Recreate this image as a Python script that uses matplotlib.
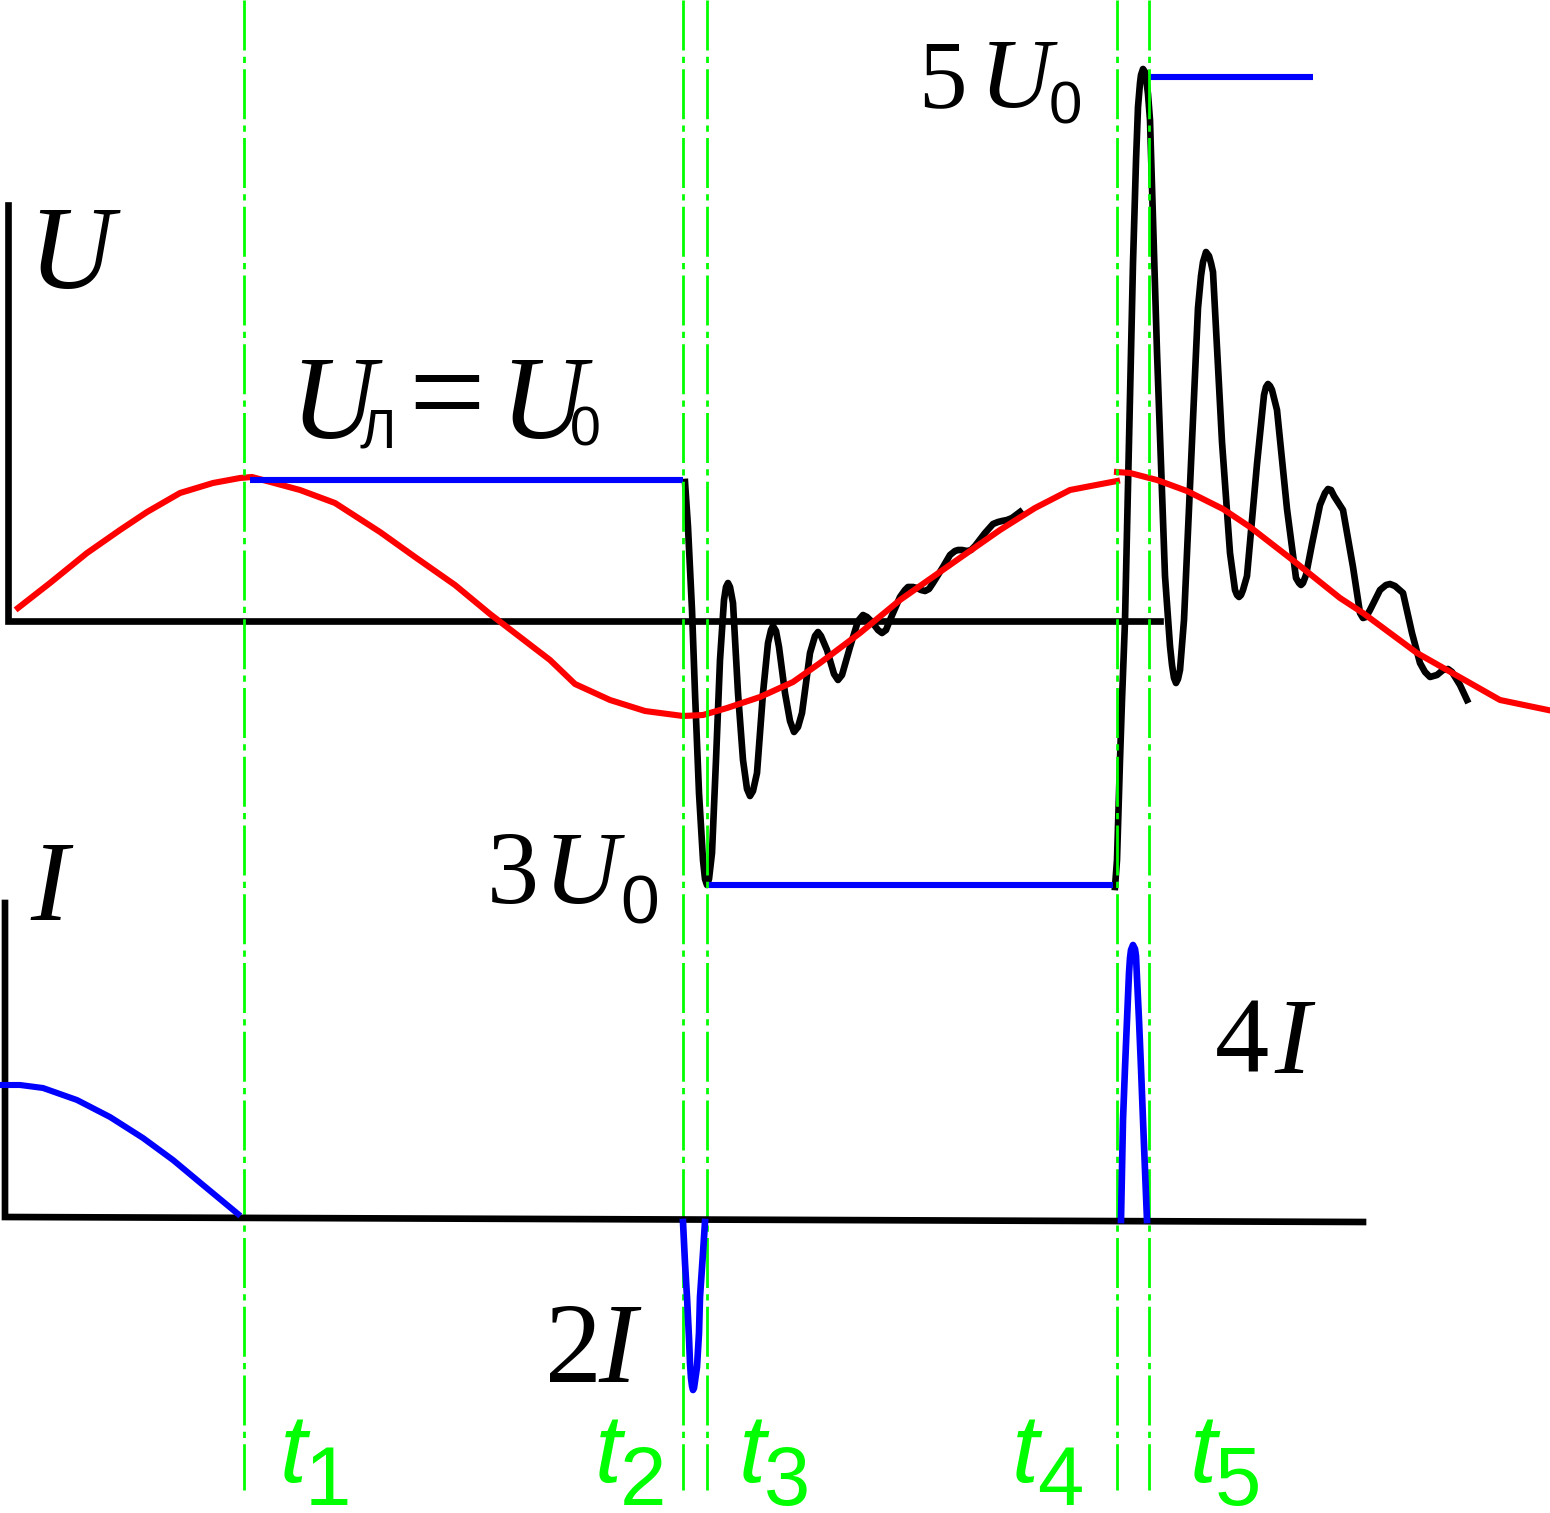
import matplotlib
matplotlib.use("Agg")
import matplotlib.pyplot as plt

# time axis in arbitrary units, voltage / current as heights above their zero lines
t_marks = [244, 683, 707, 1117, 1149]
t_names = ["1", "2", "3", "4", "5"]

red1_t = [18, 50, 87, 120, 147, 180, 213, 240, 252, 300, 335, 380, 415, 455, 490, 520, 550, 575, 610,
          645, 683, 703, 727, 760, 793, 820, 860, 900, 957, 1000, 1035, 1070, 1117]
red1_u = [13, 38, 68, 91, 109, 128, 138, 143, 144, 131, 118, 89, 64, 36, 7, -16, -39, -63, -79,
          -90, -95, -94, -87, -76, -61, -42, -12, 21, 61, 91, 113, 131, 140]
red2_t = [1117, 1130, 1157, 1187, 1223, 1250, 1290, 1340, 1363, 1417, 1447, 1500, 1548]
red2_u = [149, 148, 141, 130, 112, 94, 63, 23, 8, -32, -49, -79, -89]

blackA_t = [685, 688, 692, 695, 699, 703, 705, 707, 709, 712, 716, 720, 724, 726, 728, 730, 733, 738, 743,
            747, 750, 753, 757, 763, 768, 771, 773, 776, 779, 785, 790, 794, 798, 802, 810, 815, 818, 821,
            827, 834, 838, 842, 850, 858, 863, 867, 872, 878, 882, 886, 890, 900, 905, 908, 913, 917, 921,
            925, 929, 933, 943, 950, 955, 958, 962, 967, 971, 975, 985, 993, 998, 1002, 1007, 1012, 1020]
blackA_u = [139, 94, 11, -72, -172, -239, -258, -264, -258, -232, -139, -39, 21, 34, 38, 34, 18, -72, -139,
            -168, -175, -170, -152, -72, -22, -9, -5, -10, -26, -72, -100, -111, -106, -92, -32, -15, -11, -15,
            -29, -53, -59, -54, -26, 0, 6, 4, -1, -9, -12, -9, 1, 24, 31, 34, 34, 33, 31,
            30, 32, 38, 54, 66, 70, 71, 71, 70, 71, 75, 88, 97, 99, 100, 101, 103, 109]

blackB_t = [1115, 1117, 1120, 1122, 1125, 1128, 1133, 1136, 1138, 1140, 1141, 1143, 1145, 1146, 1148, 1150,
            1157, 1165, 1170, 1172, 1174, 1176, 1178, 1180, 1184, 1190, 1198, 1201, 1203, 1206, 1209, 1211,
            1213, 1222, 1230, 1235, 1237, 1239, 1241, 1243, 1247, 1257, 1264, 1266, 1268, 1270, 1272, 1277,
            1287, 1296, 1299, 1301, 1303, 1306, 1312, 1320, 1325, 1328, 1331, 1334, 1343, 1353, 1360, 1363,
            1366, 1370, 1380, 1386, 1390, 1395, 1403, 1412, 1420, 1425, 1430, 1437, 1443, 1448, 1452, 1460, 1467]
blackB_u = [-266, -239, -139, -79, 0, 135, 358, 460, 514, 538, 546, 552, 549, 543, 527, 501,
            269, 45, -25, -44, -57, -62, -58, -49, 1, 135, 313, 345, 359, 369, 365, 358,
            349, 179, 68, 31, 26, 24, 26, 31, 45, 157, 226, 234, 237, 235, 231, 211,
            112, 43, 38, 36, 38, 46, 77, 116, 128, 132, 131, 125, 111, 54, 8, 3,
            4, 11, 31, 36, 37, 35, 28, -12, -42, -51, -56, -54, -49, -48, -51, -64, -79]

# blue levels U0, 3U0, 5U0
lvl1_t, lvl1_u = [250, 683], [141, 141]
lvl3_t, lvl3_u = [707, 1113], [-264, -264]
lvl5_t, lvl5_u = [1149, 1313], [544, 544]

cur0_t = [0, 20, 43, 77, 110, 143, 173, 203, 238]
cur0_i = [133, 133, 130, 118, 101, 80, 58, 33, 4]
cur2_t = [683, 685, 687, 689, 690, 691, 692, 693, 694, 695, 697, 699, 700, 703, 705]
cur2_i = [-4, -45, -79, -120, -145, -160, -168, -172, -170, -163, -149, -115, -79, -35, -4]
cur4_t = [1121, 1123, 1125, 1127, 1129, 1130, 1131, 1133, 1135, 1136, 1137, 1139, 1141, 1143, 1147]
cur4_i = [-2, 98, 150, 198, 245, 260, 268, 273, 269, 262, 240, 198, 150, 98, -2]

plt.rcParams["lines.scale_dashes"] = False
fig = plt.figure(figsize=(15.5, 15.13), dpi=100)
ax = fig.add_axes([0, 0, 1, 1])
ax.set_xlim(0, 1550)
ax.set_ylim(-892, 621)
ax.axis("off")
axi = fig.add_axes([0, 0, 1, 1])
axi.set_xlim(0, 1550)
axi.set_ylim(-295, 1218)
axi.axis("off")
axi.patch.set_alpha(0)

lw = 4.8
ax.plot([8, 8, 1160], [416, 0, 0], color="black", lw=lw, solid_joinstyle="miter")
axi.plot([5, 5, 1363], [315, 1, -4], color="black", lw=lw, solid_joinstyle="miter")

ax.plot(blackA_t, blackA_u, color="black", lw=lw, solid_joinstyle="round", zorder=3)
ax.plot(blackB_t, blackB_u, color="black", lw=lw, solid_joinstyle="round", zorder=3)
ax.plot(red1_t, red1_u, color="red", lw=4.4, zorder=4)
ax.plot(red2_t, red2_u, color="red", lw=4.4, zorder=4)
for tt, uu in [(lvl1_t, lvl1_u), (lvl3_t, lvl3_u), (lvl5_t, lvl5_u)]:
    ax.plot(tt, uu, color="blue", lw=4.4, solid_capstyle="butt", zorder=5)

axi.plot(cur0_t, cur0_i, color="blue", lw=4.4, zorder=3)
axi.plot(cur2_t, cur2_i, color="blue", lw=4.8, solid_joinstyle="round", zorder=3)
axi.plot(cur4_t, cur4_i, color="blue", lw=4.8, solid_joinstyle="round", zorder=3)

green = "#00ff00"
for x in t_marks:
    ax.plot([x, x], [621, -869], color=green, lw=2.0, ls=(0, (36, 4.5, 4.5, 4.5)), zorder=6)

serif = "Liberation Serif"
sans = "Liberation Sans"
def it(x, y, s, size, **kw):
    ax.text(x, y, s, family=serif, style="italic", fontsize=size, va="baseline", ha="left", **kw)
def up(x, y, s, size, fam=serif, **kw):
    ax.text(x, y, s, family=fam, fontsize=size, va="baseline", ha="left", **kw)

it(28, 333, "U", 85)
it(30, -299, "I", 82)

it(290, 183, "U", 85)
up(360, 173, "Л", 40, sans)
up(408, 184, "=", 98, serif)
it(500, 183, "U", 85)
up(570, 176, "0", 40, sans)

up(918, 514, "5", 70)
it(980, 514, "U", 72)
up(1049, 498, "0", 43, sans)

up(487, -282, "3", 75)
it(543, -282, "U", 75)
up(620, -302, "0", 50, sans)

up(545, -761, "2", 82)
it(598, -761, "I", 82)
up(1215, -452, "4", 78)
it(1274, -452, "I", 78)

t_x = [280, 595, 739, 1012, 1190]
for x, n in zip(t_x, t_names):
    ax.text(x, -861, "t", family=sans, style="italic", fontsize=70, color=green, va="baseline", ha="left")
    ax.text(x + 25, -884, n, family=sans, fontsize=60, color=green, va="baseline", ha="left")

fig.savefig("out.png", dpi=100, facecolor="white")
